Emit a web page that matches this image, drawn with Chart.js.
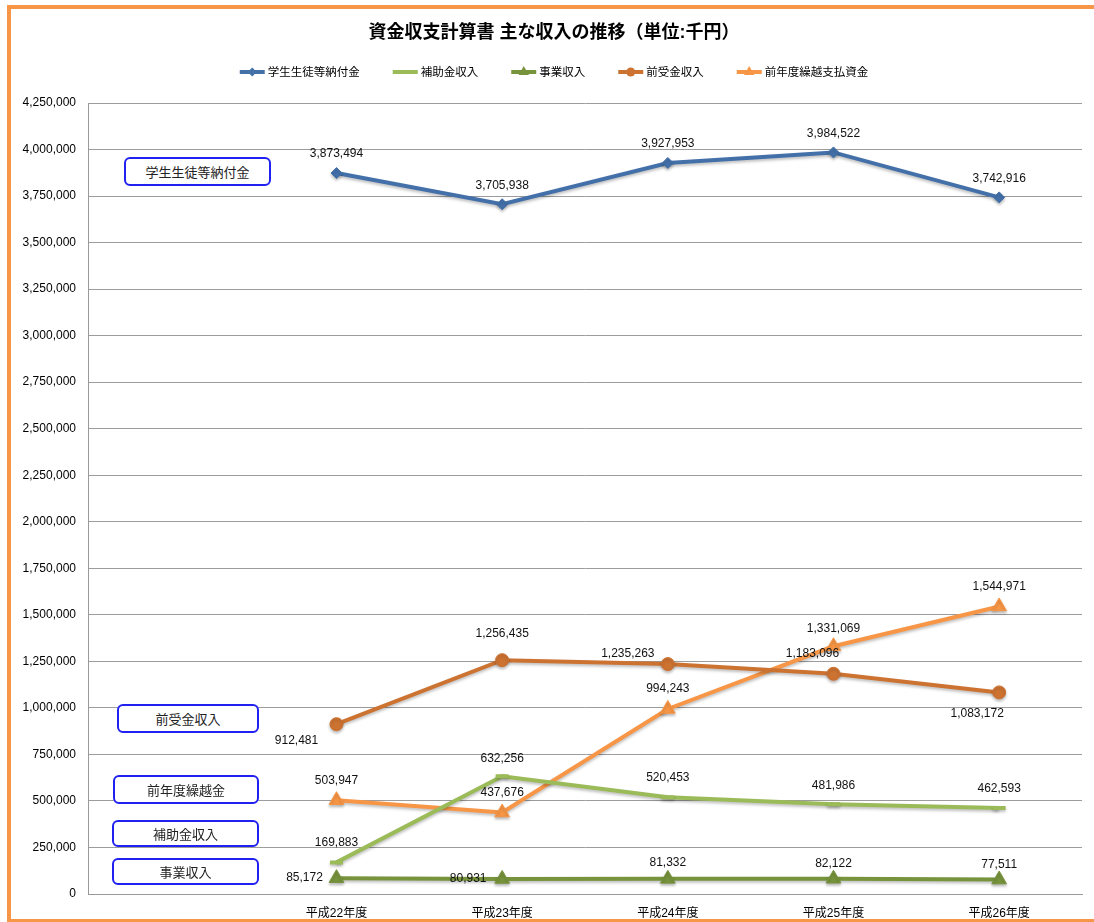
<!DOCTYPE html>
<html>
<head>
<meta charset="utf-8">
<script src="https://cdn.jsdelivr.net/npm/chart.js@4.4.1/dist/chart.umd.min.js"></script>
<style>
html, body { margin: 0; padding: 0; background: #fff; }
#wrap { position: relative; width: 1094px; height: 922px; overflow: hidden; }
#frame { position: absolute; left: 7px; top: 5px; width: 1200px; height: 917px; box-sizing: border-box;
         border: 4px solid #F79646; border-right: none; border-bottom-width: 3px; }
#myChart { position: absolute; left: 0; top: 0; }
.note { position: absolute; box-sizing: border-box; border: 2px solid #2020f0; border-radius: 6px; background: #fff;
        font: 13px 'Liberation Sans', 'Noto Sans CJK JP', sans-serif; color: #222;
        display: flex; align-items: center; justify-content: center; }
</style>
</head>
<body>
<div id="wrap">
  <div id="frame"></div>
  <canvas id="myChart" width="1094" height="922"></canvas>
  <div class="note" style="left:124px; top:157px; width:147px; height:29px;">学生生徒等納付金</div>
  <div class="note" style="left:117px; top:704px; width:142px; height:29px;">前受金収入</div>
  <div class="note" style="left:113px; top:775px; width:146px; height:29px;">前年度繰越金</div>
  <div class="note" style="left:112px; top:820px; width:147px; height:27px;">補助金収入</div>
  <div class="note" style="left:112px; top:858px; width:147px; height:27px;">事業収入</div>
</div>
<script>
// データ（単位:千円）
const chartTitle = '資金収支計算書 主な収入の推移（単位:千円）';
const categories = ['', '平成22年度', '平成23年度', '平成24年度', '平成25年度', '平成26年度'];
const seriesNames = ['学生生徒等納付金', '補助金収入', '事業収入', '前受金収入', '前年度繰越支払資金'];
const tuition   = [3873494, 3705938, 3927953, 3984522, 3742916];
const subsidy   = [169883, 632256, 520453, 481986, 462593];
const business  = [85172, 80931, 81332, 82122, 77511];
const advance   = [912481, 1256435, 1235263, 1183096, 1083172];
const carryOver = [503947, 437676, 994243, 1331069, 1544971];
const yMax = 4250000;
const yStep = 250000;

const FONT = "'Liberation Sans', 'Noto Sans CJK JP', sans-serif";
const fmt = v => Number(v).toLocaleString('en-US');

// ラベルの位置ずれ（点からのオフセット）
const labelShift = {
    0: [[0, -19], [0, -19], [0, -19], [0, -19], [0, -19]],
    1: [[0, -20], [0, -18], [0, -19], [0, -19], [0, -19]],
    2: [[-32, 0], [-34, 0], [0, -16], [0, -15], [0, -15]],
    3: [[-40, 17], [0, -26], [-40, -10], [-21, -20], [-22, 21]],
    4: [[0, -20], [0, -20], [0, -20], [0, -18], [0, -20]]
};

const styles = [
    { color: '#4370A9', point: 'rectRot', radius: 5.5 },
    { color: '#9BBB59', point: 'line', radius: 6.5 },
    { color: '#77933C', point: 'triangle', radius: 8.5 },
    { color: '#CD7332', point: 'circle', radius: 6.5 },
    { color: '#F79646', point: 'triangle', radius: 8.5 }
];
const values = [tuition, subsidy, business, advance, carryOver];

const datasets = values.map((arr, i) => ({
    label: seriesNames[i],
    data: [null].concat(arr),
    borderColor: styles[i].color,
    backgroundColor: styles[i].color,
    borderWidth: 4,
    pointStyle: styles[i].point,
    pointRadius: styles[i].radius,
    pointBorderWidth: styles[i].point === 'line' ? 4 : 1,
    pointBackgroundColor: styles[i].color,
    pointBorderColor: styles[i].color,
    tension: 0,
    spanGaps: false
}));

function drawMarker(ctx, style, x, y, r, color) {
    ctx.save();
    ctx.fillStyle = color;
    ctx.strokeStyle = color;
    ctx.beginPath();
    if (style === 'rectRot') {
        ctx.moveTo(x, y - r); ctx.lineTo(x + r, y); ctx.lineTo(x, y + r); ctx.lineTo(x - r, y);
        ctx.closePath(); ctx.fill();
    } else if (style === 'circle') {
        ctx.arc(x, y, r, 0, Math.PI * 2); ctx.fill();
    } else if (style === 'triangle') {
        ctx.moveTo(x, y - r);
        ctx.lineTo(x + r * 0.866, y + r * 0.5);
        ctx.lineTo(x - r * 0.866, y + r * 0.5);
        ctx.closePath(); ctx.fill();
    }
    ctx.restore();
}

// タイトル・凡例・データラベル
const customDraw = {
    id: 'customDraw',
    beforeDatasetDraw(chart) {
        const ctx = chart.ctx;
        ctx.save();
        ctx.shadowColor = 'rgba(0,0,0,0.25)';
        ctx.shadowBlur = 3;
        ctx.shadowOffsetY = 2;
    },
    afterDatasetDraw(chart) {
        chart.ctx.restore();
    },
    afterDraw(chart) {
        const ctx = chart.ctx;
        ctx.save();
        // タイトル
        ctx.font = 'bold 18px ' + FONT;
        ctx.fillStyle = '#000';
        ctx.textAlign = 'center';
        ctx.textBaseline = 'middle';
        ctx.fillText(chartTitle, 554, 33);

        // 凡例
        ctx.font = '11.5px ' + FONT;
        const symW = 25, symGap = 3, itemGap = 33;
        const widths = seriesNames.map(n => symW + symGap + ctx.measureText(n).width);
        const total = widths.reduce((a, b) => a + b, 0) + itemGap * (seriesNames.length - 1);
        let x = 554 - total / 2;
        const ly = 72;
        seriesNames.forEach((name, i) => {
            const s = styles[i];
            ctx.strokeStyle = s.color;
            ctx.lineWidth = 4;
            ctx.beginPath();
            ctx.moveTo(x, ly); ctx.lineTo(x + symW, ly);
            ctx.stroke();
            drawMarker(ctx, s.point, x + symW / 2, ly, s.point === 'triangle' ? 6 : 4.5, s.color);
            ctx.fillStyle = '#000';
            ctx.textAlign = 'left';
            ctx.fillText(name, x + symW + symGap, ly + 1);
            x += widths[i] + itemGap;
        });

        // データラベル
        ctx.font = '12px ' + FONT;
        ctx.fillStyle = '#111';
        ctx.textAlign = 'center';
        ctx.textBaseline = 'middle';
        chart.data.datasets.forEach((ds, di) => {
            const meta = chart.getDatasetMeta(di);
            meta.data.forEach((pt, idx) => {
                const v = ds.data[idx];
                if (v === null || v === undefined) return;
                const off = labelShift[di][idx - 1];
                ctx.fillText(fmt(v), pt.x + off[0], pt.y + off[1]);
            });
        });
        ctx.restore();
    }
};

const ctx = document.getElementById('myChart').getContext('2d');
window.myChart = new Chart(ctx, {
    type: 'line',
    data: { labels: categories, datasets: datasets },
    options: {
        responsive: false,
        animation: false,
        layout: { padding: { top: 103, left: 10, right: 12, bottom: 0 } },
        plugins: {
            legend: { display: false },
            title: { display: false },
            tooltip: { enabled: false }
        },
        scales: {
            x: {
                type: 'category',
                offset: true,
                grid: { display: false, drawTicks: false },
                border: { display: true, color: '#999', width: 1 },
                ticks: { color: '#000', font: { size: 12, family: FONT }, padding: 12, maxRotation: 0, autoSkip: false },
                afterFit(scale) { scale.height = 28; }
            },
            y: {
                min: 0,
                max: yMax,
                grid: { color: '#9c9c9c', lineWidth: 1, drawTicks: false },
                border: { display: true, color: '#999', width: 1 },
                ticks: {
                    stepSize: yStep,
                    color: '#000',
                    font: { size: 12, family: FONT },
                    padding: 12,
                    callback: v => fmt(v)
                },
                afterFit(scale) { scale.width = 78; }
            }
        }
    },
    plugins: [customDraw]
});
</script>
</body>
</html>
